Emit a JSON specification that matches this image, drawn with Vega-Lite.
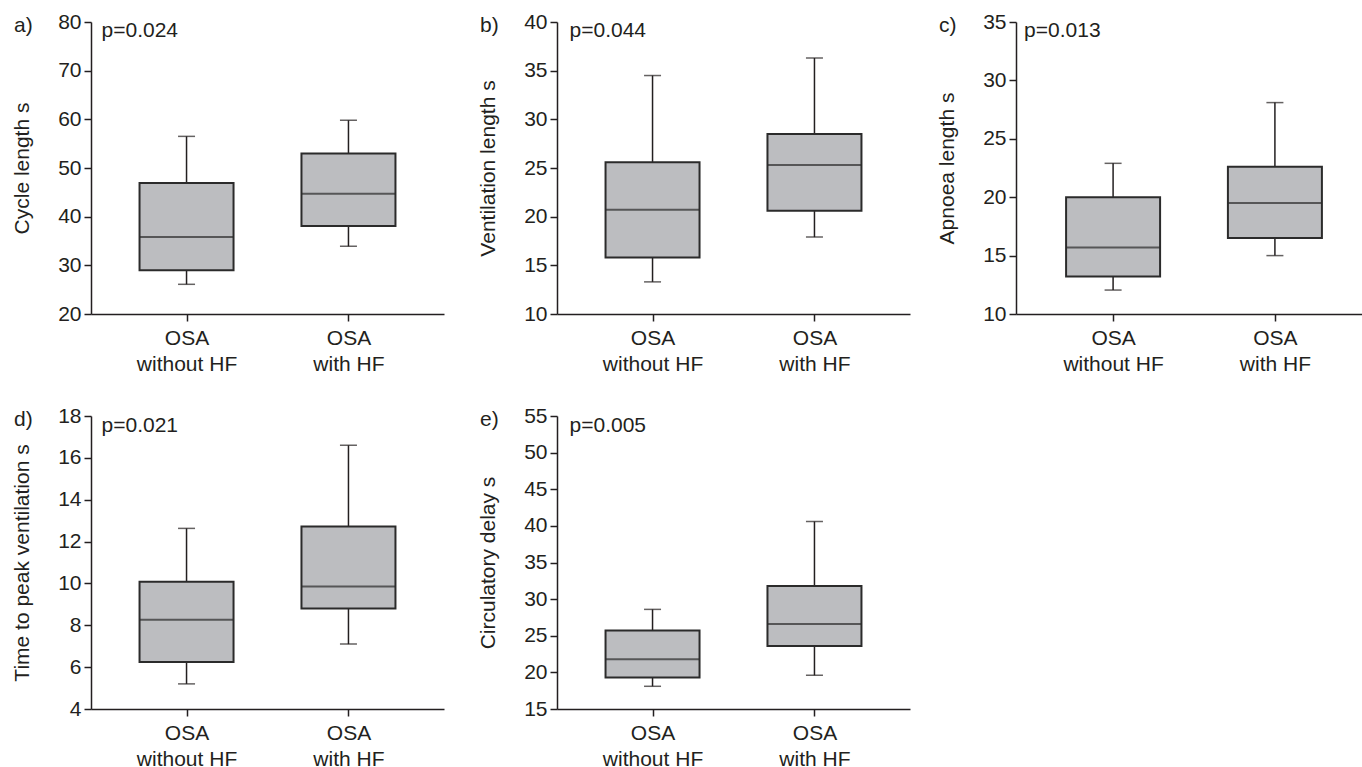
{
  "$schema": "https://vega.github.io/schema/vega-lite/v6.json",
  "padding": {"left": 11, "top": 11, "right": 0, "bottom": 0},
  "background": "white",
  "config": {
    "font": "Liberation Sans",
    "view": {"stroke": null},
    "axis": {
      "labelFontSize": 21, "labelColor": "#231f20", "titleFontSize": 21, "titleFontWeight": "normal",
      "titleColor": "#231f20", "domainColor": "#231f20", "tickColor": "#231f20", "domainWidth": 1.5,
      "tickWidth": 1.5, "tickSize": 7, "grid": false, "labelPadding": 3, "labelOverlap": false
    },
    "axisY": {"titlePadding": 25, "tickCount": 30},
    "axisX": {"labelPadding": 6, "labelLineHeight": 26, "labelAngle": 0},
    "title": {"anchor": "start", "frame": "group", "dx": -77, "dy": 29, "baseline": "alphabetic", "fontSize": 21, "fontWeight": "normal", "color": "#231f20", "offset": 4}
  },
  "datasets": {
    "stats": [
      {"panel": "a", "group": "OSA without HF", "min": 26.1, "q1": 29.0, "median": 35.8, "q3": 46.9, "max": 56.5},
      {"panel": "a", "group": "OSA with HF", "min": 33.9, "q1": 38.1, "median": 44.7, "q3": 53.0, "max": 59.8},
      {"panel": "b", "group": "OSA without HF", "min": 13.3, "q1": 15.8, "median": 20.7, "q3": 25.6, "max": 34.5},
      {"panel": "b", "group": "OSA with HF", "min": 17.9, "q1": 20.6, "median": 25.3, "q3": 28.5, "max": 36.3},
      {"panel": "c", "group": "OSA without HF", "min": 12.05, "q1": 13.2, "median": 15.7, "q3": 20.0, "max": 22.9},
      {"panel": "c", "group": "OSA with HF", "min": 15.0, "q1": 16.5, "median": 19.5, "q3": 22.6, "max": 28.1},
      {"panel": "d", "group": "OSA without HF", "min": 5.2, "q1": 6.25, "median": 8.27, "q3": 10.08, "max": 12.63},
      {"panel": "d", "group": "OSA with HF", "min": 7.1, "q1": 8.8, "median": 9.85, "q3": 12.72, "max": 16.6},
      {"panel": "e", "group": "OSA without HF", "min": 18.1, "q1": 19.3, "median": 21.8, "q3": 25.7, "max": 28.6},
      {"panel": "e", "group": "OSA with HF", "min": 19.6, "q1": 23.6, "median": 26.6, "q3": 31.8, "max": 40.6}
    ],
    "pvals": [
      {"panel": "a", "label": "p=0.024"},
      {"panel": "b", "label": "p=0.044"},
      {"panel": "c", "label": "p=0.013"},
      {"panel": "d", "label": "p=0.021"},
      {"panel": "e", "label": "p=0.005"}
    ]
  },
  "vconcat": [
    {
      "hconcat": [
        {
          "width": 353, "height": 292,
          "title": {"text": "a)"},
          "layer": [
            {
              "data": {"name": "stats"},
              "transform": [{"filter": "datum.panel === 'a'"}],
              "encoding": {"x": {"field": "group", "type": "nominal", "scale": {"type": "point", "domain": ["OSA without HF", "OSA with HF"], "padding": 0.59}, "axis": {"title": null, "labelExpr": "datum.value == 'OSA without HF' ? ['OSA', 'without HF'] : ['OSA', 'with HF']"}}},
              "layer": [
                {"mark": {"type": "rule", "color": "#231f20", "strokeWidth": 1.5}, "encoding": {"y": {"field": "min", "type": "quantitative", "scale": {"domain": [20, 80], "nice": false, "zero": false}, "axis": {"title": "Cycle length s", "format": "d", "values": [20, 30, 40, 50, 60, 70, 80]}}, "y2": {"field": "max"}}},
                {"mark": {"type": "bar", "size": 94, "fill": "#bcbdc0", "stroke": "#2b2b2b", "strokeWidth": 2}, "encoding": {"y": {"field": "q1", "type": "quantitative"}, "y2": {"field": "q3"}}},
                {"mark": {"type": "tick", "size": 94, "thickness": 2, "color": "#2b2b2b"}, "encoding": {"y": {"field": "median", "type": "quantitative"}}},
                {"mark": {"type": "tick", "size": 17, "thickness": 1.5, "color": "#231f20"}, "encoding": {"y": {"field": "min", "type": "quantitative"}}},
                {"mark": {"type": "tick", "size": 17, "thickness": 1.5, "color": "#231f20"}, "encoding": {"y": {"field": "max", "type": "quantitative"}}}
              ]
            },
            {
              "data": {"name": "pvals"},
              "transform": [{"filter": "datum.panel === 'a'"}],
              "mark": {"type": "text", "align": "left", "baseline": "alphabetic", "dx": -85, "dy": 15, "fontSize": 21, "color": "#231f20"},
              "encoding": {"x": {"datum": "OSA without HF"}, "y": {"datum": 80, "type": "quantitative"}, "text": {"field": "label"}}
            }
          ]
        },
        {
          "spacing": 26,
          "hconcat": [
            {
              "width": 353, "height": 292,
              "title": {"text": "b)"},
              "layer": [
                {
                  "data": {"name": "stats"},
                  "transform": [{"filter": "datum.panel === 'b'"}],
                  "encoding": {"x": {"field": "group", "type": "nominal", "scale": {"type": "point", "domain": ["OSA without HF", "OSA with HF"], "padding": 0.59}, "axis": {"title": null, "labelExpr": "datum.value == 'OSA without HF' ? ['OSA', 'without HF'] : ['OSA', 'with HF']"}}},
                  "layer": [
                    {"mark": {"type": "rule", "color": "#231f20", "strokeWidth": 1.5}, "encoding": {"y": {"field": "min", "type": "quantitative", "scale": {"domain": [10, 40], "nice": false, "zero": false}, "axis": {"title": "Ventilation length s", "format": "d", "values": [10, 15, 20, 25, 30, 35, 40]}}, "y2": {"field": "max"}}},
                    {"mark": {"type": "bar", "size": 94, "fill": "#bcbdc0", "stroke": "#2b2b2b", "strokeWidth": 2}, "encoding": {"y": {"field": "q1", "type": "quantitative"}, "y2": {"field": "q3"}}},
                    {"mark": {"type": "tick", "size": 94, "thickness": 2, "color": "#2b2b2b"}, "encoding": {"y": {"field": "median", "type": "quantitative"}}},
                    {"mark": {"type": "tick", "size": 17, "thickness": 1.5, "color": "#231f20"}, "encoding": {"y": {"field": "min", "type": "quantitative"}}},
                    {"mark": {"type": "tick", "size": 17, "thickness": 1.5, "color": "#231f20"}, "encoding": {"y": {"field": "max", "type": "quantitative"}}}
                  ]
                },
                {
                  "data": {"name": "pvals"},
                  "transform": [{"filter": "datum.panel === 'b'"}],
                  "mark": {"type": "text", "align": "left", "baseline": "alphabetic", "dx": -83, "dy": 15, "fontSize": 21, "color": "#231f20"},
                  "encoding": {"x": {"datum": "OSA without HF"}, "y": {"datum": 40, "type": "quantitative"}, "text": {"field": "label"}}
                }
              ]
            },
            {
              "width": 356, "height": 292,
              "title": {"text": "c)"},
              "layer": [
                {
                  "data": {"name": "stats"},
                  "transform": [{"filter": "datum.panel === 'c'"}],
                  "encoding": {"x": {"field": "group", "type": "nominal", "scale": {"type": "point", "domain": ["OSA without HF", "OSA with HF"], "padding": 0.6}, "axis": {"title": null, "labelExpr": "datum.value == 'OSA without HF' ? ['OSA', 'without HF'] : ['OSA', 'with HF']"}}},
                  "layer": [
                    {"mark": {"type": "rule", "color": "#231f20", "strokeWidth": 1.5}, "encoding": {"y": {"field": "min", "type": "quantitative", "scale": {"domain": [10, 35], "nice": false, "zero": false}, "axis": {"title": "Apnoea length s", "format": "d", "values": [10, 15, 20, 25, 30, 35]}}, "y2": {"field": "max"}}},
                    {"mark": {"type": "bar", "size": 94, "fill": "#bcbdc0", "stroke": "#2b2b2b", "strokeWidth": 2}, "encoding": {"y": {"field": "q1", "type": "quantitative"}, "y2": {"field": "q3"}}},
                    {"mark": {"type": "tick", "size": 94, "thickness": 2, "color": "#2b2b2b"}, "encoding": {"y": {"field": "median", "type": "quantitative"}}},
                    {"mark": {"type": "tick", "size": 17, "thickness": 1.5, "color": "#231f20"}, "encoding": {"y": {"field": "min", "type": "quantitative"}}},
                    {"mark": {"type": "tick", "size": 17, "thickness": 1.5, "color": "#231f20"}, "encoding": {"y": {"field": "max", "type": "quantitative"}}}
                  ]
                },
                {
                  "data": {"name": "pvals"},
                  "transform": [{"filter": "datum.panel === 'c'"}],
                  "mark": {"type": "text", "align": "left", "baseline": "alphabetic", "dx": -89, "dy": 15, "fontSize": 21, "color": "#231f20"},
                  "encoding": {"x": {"datum": "OSA without HF"}, "y": {"datum": 35, "type": "quantitative"}, "text": {"field": "label"}}
                }
              ]
            }
          ]
        }
      ],
      "spacing": 33
    },
    {
      "hconcat": [
        {
          "width": 353, "height": 293,
          "title": {"text": "d)"},
          "layer": [
            {
              "data": {"name": "stats"},
              "transform": [{"filter": "datum.panel === 'd'"}],
              "encoding": {"x": {"field": "group", "type": "nominal", "scale": {"type": "point", "domain": ["OSA without HF", "OSA with HF"], "padding": 0.59}, "axis": {"title": null, "labelExpr": "datum.value == 'OSA without HF' ? ['OSA', 'without HF'] : ['OSA', 'with HF']"}}},
              "layer": [
                {"mark": {"type": "rule", "color": "#231f20", "strokeWidth": 1.5}, "encoding": {"y": {"field": "min", "type": "quantitative", "scale": {"domain": [4, 18], "nice": false, "zero": false}, "axis": {"title": "Time to peak ventilation s", "format": "d", "values": [4, 6, 8, 10, 12, 14, 16, 18]}}, "y2": {"field": "max"}}},
                {"mark": {"type": "bar", "size": 94, "fill": "#bcbdc0", "stroke": "#2b2b2b", "strokeWidth": 2}, "encoding": {"y": {"field": "q1", "type": "quantitative"}, "y2": {"field": "q3"}}},
                {"mark": {"type": "tick", "size": 94, "thickness": 2, "color": "#2b2b2b"}, "encoding": {"y": {"field": "median", "type": "quantitative"}}},
                {"mark": {"type": "tick", "size": 17, "thickness": 1.5, "color": "#231f20"}, "encoding": {"y": {"field": "min", "type": "quantitative"}}},
                {"mark": {"type": "tick", "size": 17, "thickness": 1.5, "color": "#231f20"}, "encoding": {"y": {"field": "max", "type": "quantitative"}}}
              ]
            },
            {
              "data": {"name": "pvals"},
              "transform": [{"filter": "datum.panel === 'd'"}],
              "mark": {"type": "text", "align": "left", "baseline": "alphabetic", "dx": -85, "dy": 16, "fontSize": 21, "color": "#231f20"},
              "encoding": {"x": {"datum": "OSA without HF"}, "y": {"datum": 18, "type": "quantitative"}, "text": {"field": "label"}}
            }
          ]
        },
        {
          "width": 353, "height": 293,
          "title": {"text": "e)"},
          "layer": [
            {
              "data": {"name": "stats"},
              "transform": [{"filter": "datum.panel === 'e'"}],
              "encoding": {"x": {"field": "group", "type": "nominal", "scale": {"type": "point", "domain": ["OSA without HF", "OSA with HF"], "padding": 0.59}, "axis": {"title": null, "labelExpr": "datum.value == 'OSA without HF' ? ['OSA', 'without HF'] : ['OSA', 'with HF']"}}},
              "layer": [
                {"mark": {"type": "rule", "color": "#231f20", "strokeWidth": 1.5}, "encoding": {"y": {"field": "min", "type": "quantitative", "scale": {"domain": [15, 55], "nice": false, "zero": false}, "axis": {"title": "Circulatory delay s", "format": "d", "values": [15, 20, 25, 30, 35, 40, 45, 50, 55], "tickCount": 30}}, "y2": {"field": "max"}}},
                {"mark": {"type": "bar", "size": 94, "fill": "#bcbdc0", "stroke": "#2b2b2b", "strokeWidth": 2}, "encoding": {"y": {"field": "q1", "type": "quantitative"}, "y2": {"field": "q3"}}},
                {"mark": {"type": "tick", "size": 94, "thickness": 2, "color": "#2b2b2b"}, "encoding": {"y": {"field": "median", "type": "quantitative"}}},
                {"mark": {"type": "tick", "size": 17, "thickness": 1.5, "color": "#231f20"}, "encoding": {"y": {"field": "min", "type": "quantitative"}}},
                {"mark": {"type": "tick", "size": 17, "thickness": 1.5, "color": "#231f20"}, "encoding": {"y": {"field": "max", "type": "quantitative"}}}
              ]
            },
            {
              "data": {"name": "pvals"},
              "transform": [{"filter": "datum.panel === 'e'"}],
              "mark": {"type": "text", "align": "left", "baseline": "alphabetic", "dx": -83, "dy": 16, "fontSize": 21, "color": "#231f20"},
              "encoding": {"x": {"datum": "OSA without HF"}, "y": {"datum": 55, "type": "quantitative"}, "text": {"field": "label"}}
            }
          ]
        }
      ],
      "spacing": 33
    }
  ],
  "spacing": 31
}
